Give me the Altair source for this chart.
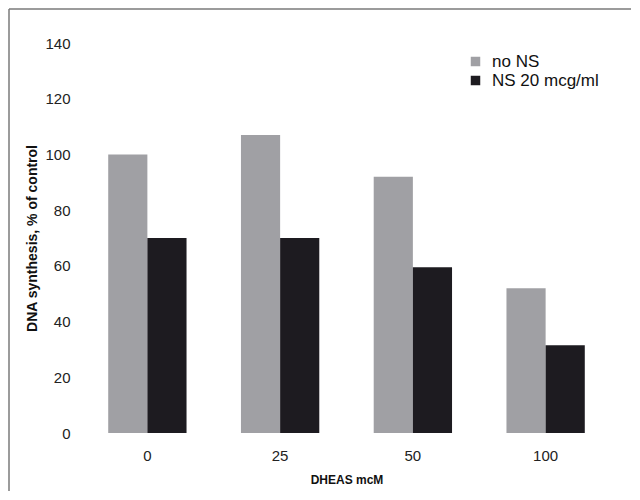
import altair as alt
import pandas as pd

categories = ["0", "25", "50", "100"]
series = ["no NS", "NS 20 mcg/ml"]
no_ns = [100, 107, 92, 52]
ns_20 = [70, 70, 59.5, 31.5]
y_ticks = [0, 20, 40, 60, 80, 100, 120, 140]

rows = []
for c, v in zip(categories, no_ns):
    rows.append({"dose": c, "group": series[0], "value": v})
for c, v in zip(categories, ns_20):
    rows.append({"dose": c, "group": series[1], "value": v})
df = pd.DataFrame(rows)

FONT = "Liberation Sans"

bars = alt.Chart(df).mark_bar(opacity=1).encode(
    x=alt.X("dose:N", sort=categories,
            scale=alt.Scale(paddingInner=0.41, paddingOuter=0.205),
            axis=alt.Axis(title="DHEAS mcM", labelAngle=0, domain=False, ticks=False,
                          labelPadding=15, labelFontSize=15, labelColor="#222222",
                          labelFont=FONT, titleFont=FONT, titleFontSize=12,
                          titleFontWeight="bold", titleColor="#111111", titlePadding=11)),
    xOffset=alt.XOffset("group:N", sort=series),
    y=alt.Y("value:Q", scale=alt.Scale(domain=[0, 140], nice=False),
            axis=alt.Axis(title="DNA synthesis, % of control", values=y_ticks, grid=False,
                          domain=False, ticks=False, labelPadding=11, labelFontSize=15,
                          labelColor="#222222", labelFont=FONT, titleFont=FONT,
                          titleFontSize=14, titleFontWeight="bold", titleColor="#111111",
                          titlePadding=5)),
    color=alt.Color("group:N", sort=series,
                    scale=alt.Scale(domain=series, range=["#a0a0a4", "#1d1b20"]),
                    legend=alt.Legend(title=None, orient="none", legendX=386, legendY=10,
                                      symbolType="square", symbolSize=90,
                                      symbolStrokeWidth=0, labelFontSize=17,
                                      labelFont=FONT, labelColor="#111111",
                                      labelOffset=8, rowPadding=1, padding=0)),
)

frame_data = alt.Data(values=[{"k": 1}])
left_line = alt.Chart(frame_data).mark_rule(color="#7a7a7a", strokeWidth=1.5).encode(
    x=alt.value(-72), y=alt.value(-34), y2=alt.value(448))
top_line = alt.Chart(frame_data).mark_rule(color="#7a7a7a", strokeWidth=1.5).encode(
    x=alt.value(-72), x2=alt.value(550), y=alt.value(-34))

chart = alt.layer(bars, left_line, top_line).properties(
    width=531, height=390, padding=0, background="white",
    autosize=alt.AutoSizeParams(type="pad"),
).configure_view(strokeWidth=0, stroke="transparent")

chart.save("out.html", embed_options={"renderer": "svg", "actions": False})
